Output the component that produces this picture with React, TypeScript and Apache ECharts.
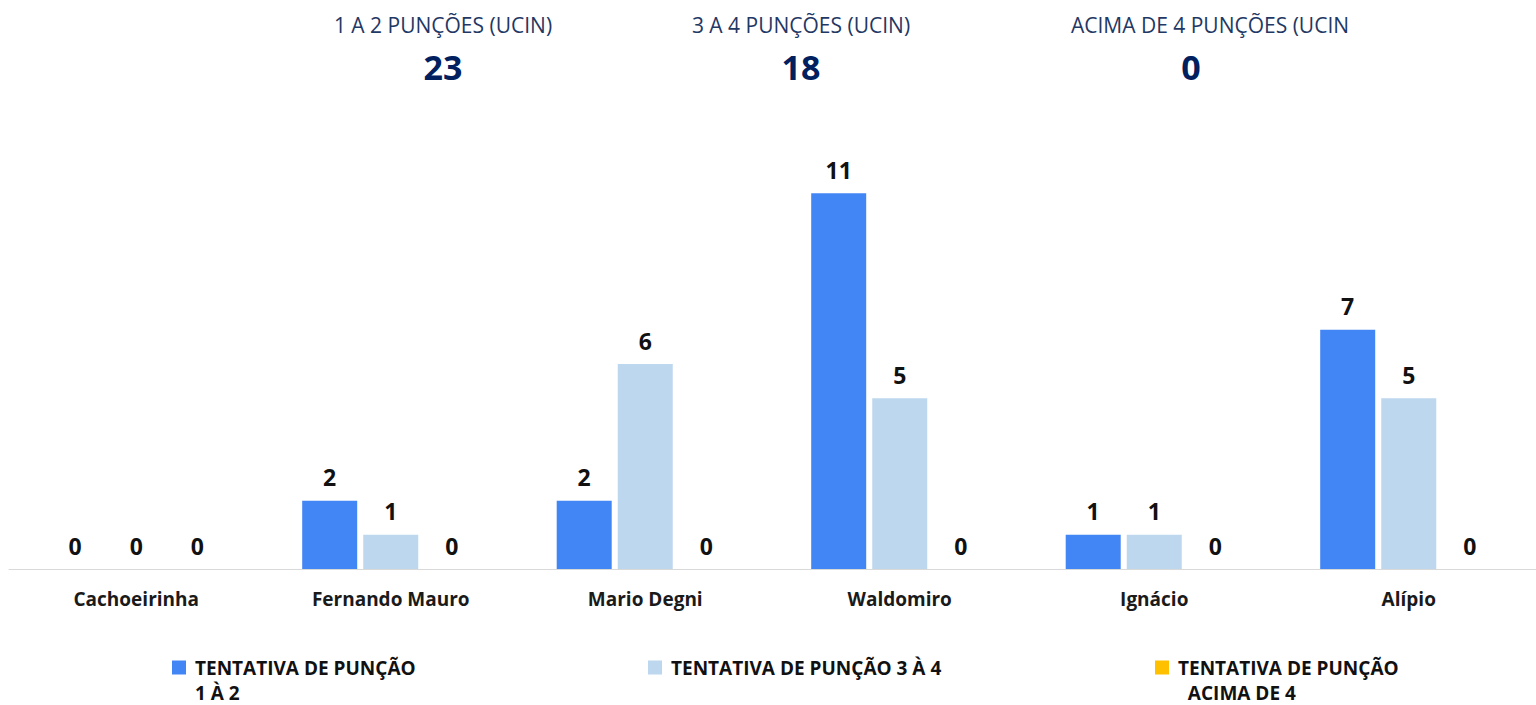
import React, { useEffect, useRef } from "react";
import * as echarts from "echarts";

const categories = ["Cachoeirinha", "Fernando Mauro", "Mario Degni", "Waldomiro", "Ignácio", "Alípio"];
const seriesNames = ["TENTATIVA DE PUNÇÃO 1 À 2", "TENTATIVA DE PUNÇÃO 3 À 4", "TENTATIVA DE PUNÇÃO ACIMA DE 4"];
const legendLabels = ["\nTENTATIVA DE PUNÇÃO\n1 À 2", "TENTATIVA DE PUNÇÃO 3 À 4", "\nTENTATIVA DE PUNÇÃO\n\u00a0\u00a0ACIMA DE 4"];
const values1a2 = [0, 2, 2, 11, 1, 7];
const values3a4 = [0, 1, 6, 5, 1, 5];
const valuesAcima4 = [0, 0, 0, 0, 0, 0];
const headerTitles = ["1 A 2 PUNÇÕES (UCIN)", "3 A 4 PUNÇÕES (UCIN)", "ACIMA DE 4 PUNÇÕES (UCIN"];
const colors = ["#4285F4", "#BDD7EE", "#FFC000"];

const FONT = "'Open Sans', 'Noto Sans', sans-serif";

export default function App() {
  const ref = useRef<HTMLDivElement>(null);
  useEffect(() => {
    if (!ref.current) return;
    const chart = echarts.init(ref.current, null, { renderer: "svg" });
    const allValues = [values1a2, values3a4, valuesAcima4];
    const totals = allValues.map((arr) => arr.reduce((a, b) => a + b, 0));
    const titleCenters = [443, 801, 1210];
    const numberCenters = [443, 801, 1191];
    const legendLefts = [172, 648, 1155];
    const legendTops = [630, 655, 630];

    const graphic: any[] = [];
    headerTitles.forEach((t, i) => {
      graphic.push({
        type: "text",
        x: titleCenters[i],
        y: 25,
        style: {
          text: t,
          fill: "#1F3864",
          font: `normal 21px ${FONT}`,
          textAlign: "center",
          textVerticalAlign: "middle",
        },
      });
      graphic.push({
        type: "text",
        x: numberCenters[i],
        y: 67,
        style: {
          text: String(totals[i]),
          fill: "#002060",
          font: `bold 34px ${FONT}`,
          textAlign: "center",
          textVerticalAlign: "middle",
        },
      });
    });

    const option: any = {
      animation: false,
      grid: { left: 9, top: 159, width: 1539, height: 410, containLabel: false },
      xAxis: {
        type: "category",
        data: categories,
        axisLine: { show: true, lineStyle: { color: "#D9D9D9", width: 1 } },
        axisTick: { show: false },
        axisLabel: {
          margin: 20,
          fontFamily: FONT,
          fontWeight: "bold",
          fontSize: 19,
          color: "#1a1a1a",
        },
      },
      yAxis: {
        type: "value",
        min: 0,
        max: 12,
        show: false,
        splitLine: { show: false },
      },
      legend: seriesNames.map((name, i) => ({
        data: [name],
        left: legendLefts[i],
        top: legendTops[i],
        padding: 0,
        orient: "horizontal",
        icon: "rect",
        itemWidth: 14,
        itemHeight: 14,
        itemGap: 8,
        selectedMode: false,
        formatter: () => legendLabels[i],
        textStyle: {
          fontFamily: FONT,
          fontWeight: "bold",
          fontSize: 19,
          color: "#111",
          lineHeight: 25,
          padding: [0, 0, 0, 4],
        },
      })),
      graphic,
      series: allValues.map((vals, i) => ({
        type: "bar",
        name: seriesNames[i],
        data: vals,
        barWidth: 55,
        barGap: "11%",
        barCategoryGap: "31%",
        itemStyle: { color: colors[i] },
        label: {
          show: true,
          position: "top",
          distance: 12,
          fontFamily: FONT,
          fontWeight: "bold",
          fontSize: 23,
          color: "#111",
        },
      })),
    };
    chart.setOption(option);
    return () => chart.dispose();
  }, []);
  return (
    <div
      ref={ref}
      style={{ position: "fixed", left: 0, top: 0, width: 1536, height: 705, background: "#fff" }}
    />
  );
}
